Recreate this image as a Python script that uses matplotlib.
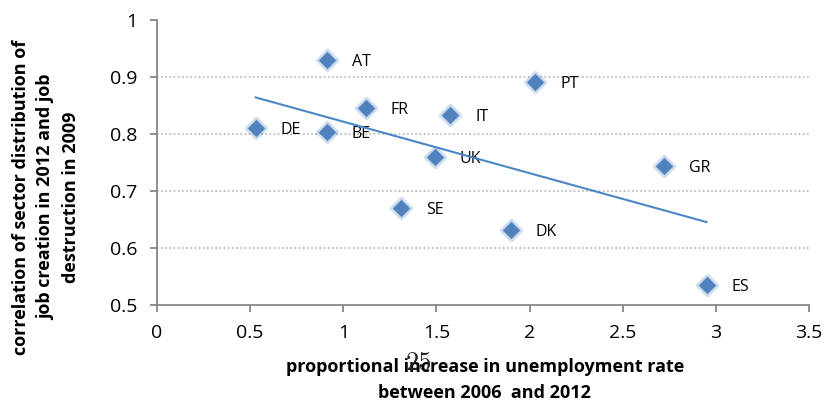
import matplotlib
matplotlib.use("Agg")
import matplotlib.pyplot as plt
import numpy as np

countries = ["AT", "PT", "FR", "IT", "DE", "BE", "UK", "GR", "SE", "DK", "ES"]
unemp_increase = [0.91, 2.03, 1.12, 1.575, 0.53, 0.91, 1.49, 2.72, 1.31, 1.90, 2.95]
correlation = [0.930, 0.891, 0.846, 0.833, 0.811, 0.804, 0.760, 0.744, 0.670, 0.632, 0.535]
xticks = [0, 0.5, 1, 1.5, 2, 2.5, 3, 3.5]
yticks = [0.5, 0.6, 0.7, 0.8, 0.9, 1.0]
xtick_labels = ["0", "0.5", "1", "1.5", "2", "2.5", "3", "3.5"]
ytick_labels = ["0.5", "0.6", "0.7", "0.8", "0.9", "1"]

plt.rcParams['font.family'] = ['Open Sans', 'DejaVu Sans']

W, H = 827, 403
fig = plt.figure(figsize=(W/100, H/100), dpi=100)
x0, x1, ytop, ybot = 157, 809, 20, 305
ax = fig.add_axes([x0/W, 1-ybot/H, (x1-x0)/W, (ybot-ytop)/H])

ax.set_xlim(0, 3.5)
ax.set_ylim(0.5, 1.0)
for y in yticks[1:-1]:
    ax.axhline(y, color="#b4b4b4", lw=1.2, ls=(0, (1, 1.5)), zorder=0)

xs = np.array(unemp_increase)
ys = np.array(correlation)
ax.scatter(xs, ys, marker="D", s=95, color="#4f81bd", alpha=0.25, zorder=2, linewidths=3, edgecolors="#4f81bd")
ax.scatter(xs, ys, marker="D", s=75, color="#4f81bd", zorder=3, linewidths=0)

slope, intercept = np.polyfit(xs, ys, 1)
lx = np.array([xs.min(), xs.max()])
ax.plot(lx, slope*lx + intercept, color="#4a86c8", lw=1.5, zorder=4)

for c, x, y in zip(countries, xs, ys):
    ax.annotate(c, (x, y), xytext=(18, -1.5), textcoords="offset points",
                fontsize=11.5, va="center", ha="left", color="black")

ax.set_xticks(xticks)
ax.set_xticklabels(xtick_labels, fontsize=14)
ax.set_yticks(yticks)
ax.set_yticklabels(ytick_labels, fontsize=14)
for s in ["top", "right"]:
    ax.spines[s].set_visible(False)
for s in ["left", "bottom"]:
    ax.spines[s].set_color("#868686")
    ax.spines[s].set_linewidth(1.3)
ax.tick_params(axis="both", direction="out", length=5, color="#868686", width=1.3)
ax.tick_params(axis="x", pad=9)
ax.tick_params(axis="y", pad=9)

fig.text(485/W, 1-380/H, "proportional increase in unemployment rate\nbetween 2006  and 2012",
         ha="center", va="center", fontsize=13, fontweight="bold", linespacing=1.5)
fig.text(46/W, 1-197/H, "correlation of sector distribution of\njob creation in 2012 and job\ndestruction in 2009",
         ha="center", va="center", rotation=90, fontsize=13, fontweight="bold", linespacing=1.5)
fig.text(419/W, 1-363/H, "25", ha="center", va="center", fontsize=19, family="cmr10", color="#222222")

fig.savefig("out.png", dpi=100)
